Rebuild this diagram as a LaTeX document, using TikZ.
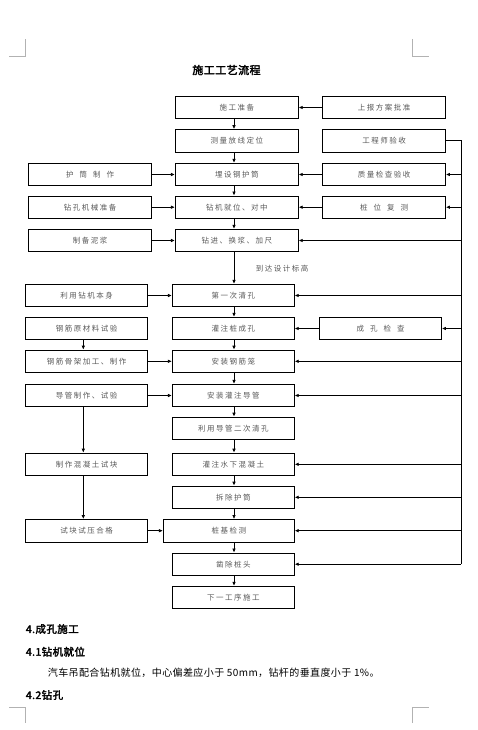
\documentclass[tikz,border=0pt]{standalone}
\usepackage{fontspec}
\usetikzlibrary{arrows.meta,calc}
\newfontfamily\cjk{Noto Sans CJK SC}[LetterSpace=20]
\newfontfamily\cjkp{Noto Sans CJK SC}[LetterSpace=4]
\newfontfamily\cjkb{Noto Sans CJK SC}[FakeBold=2.5,LetterSpace=4]
\begin{document}
\begin{tikzpicture}[x=1pt,y=-1pt,
  box/.style={draw=black,line width=0.8pt,minimum width=123pt,minimum height=22.5pt,inner sep=0pt,
    font=\cjk\fontsize{7.5}{9}\selectfont,text=black!65},
  lbox/.style={box,minimum width=122pt},
  arr/.style={line width=0.75pt,-{Latex[length=4pt,width=3.6pt]}},
  bus/.style={line width=0.75pt},
  crop/.style={draw=black!30,line width=0.6pt}]
\useasboundingbox (0,0) rectangle (477,730);
% crop marks
\draw[crop] (9,56.7) -- (25.7,56.7) -- (25.7,39);
\draw[crop] (412.3,39) -- (412.3,56.7) -- (429,56.7);
\draw[crop] (9,707.7) -- (25.7,707.7) -- (25.7,723);
\draw[crop] (412.3,723) -- (412.3,707.7) -- (429,707.7);
% title
\node[font=\cjkb\fontsize{11}{13}\selectfont] (title) at (226.5,70) {施工工艺流程};
% upper center column
\node[box] (c1) at (236.8,107.5) {施工准备};
\node[box] (c2) at (236.8,140.8) {测量放线定位};
\node[box] (c3) at (236.8,174.5) {埋设钢护筒};
\node[box] (c4) at (236.8,207.2) {钻机就位、对中};
\node[box] (c5) at (236.8,240.5) {钻进、换浆、加尺};
% right column
\node[box] (r1) at (384,107.5) {上报方案批准};
\node[box] (r2) at (384,140.8) {工程师验收};
\node[box] (r3) at (384,174.5) {质量检查验收};
\node[box] (r4) at (384,207.2) {桩\hspace{6pt}位\hspace{6pt}复\hspace{6pt}测};
% upper left column
\node[box] (l3) at (90,174.5) {护\hspace{6pt}筒\hspace{6pt}制\hspace{6pt}作};
\node[box] (l4) at (90,207.2) {钻孔机械准备};
\node[box] (l5) at (90,240.5) {制备泥浆};
% lower center column
\node[lbox] (c6) at (233.3,295.5) {第一次清孔};
\node[lbox] (c7) at (233.3,328.5) {灌注桩成孔};
\node[lbox] (c8) at (233.3,361.3) {安装钢筋笼};
\node[lbox] (c9) at (233.3,395.5) {安装灌注导管};
\node[lbox] (c10) at (233.3,428.3) {利用导管二次清孔};
\node[lbox] (c11) at (233.3,464.3) {灌注水下混凝土};
\node[lbox] (c12) at (233.3,497.3) {拆除护筒};
\node[lbox,minimum width=131pt] (c13) at (228.8,530.7) {桩基检测};
\node[lbox] (c14) at (233.3,564.2) {凿除桩头};
\node[lbox] (c15) at (233.3,597.5) {下一工序施工};
% lower left column
\node[lbox] (l6) at (86.6,295.5) {利用钻机本身};
\node[lbox] (l7) at (86.6,328.5) {钢筋原材料试验};
\node[lbox] (l8) at (86.6,361.3) {钢筋骨架加工、制作};
\node[lbox] (l9) at (86.6,395.5) {导管制作、试验};
\node[lbox] (l11) at (86.6,464.3) {制作混凝土试块};
\node[lbox] (l13) at (86.6,530.7) {试块试压合格};
\node[lbox] (r7) at (380.5,328.5) {成\hspace{6pt}孔\hspace{6pt}检\hspace{6pt}查};
% label
\node[anchor=west,inner sep=0pt,font=\cjk\fontsize{7.5}{9}\selectfont,text=black!65] (lab) at (255.7,269) {到达设计标高};
% reference coordinates
\coordinate (cx) at (234,0);
\coordinate (lx) at (83.3,0);
\coordinate (bx) at (461,0);
% center column vertical arrows
\foreach \a/\b in {c1/c2,c2/c3,c3/c4,c4/c5,c5/c6,c6/c7,c7/c8,c8/c9,c9/c10,c10/c11,c11/c12,c12/c13,c13/c14,c14/c15}
  \draw[arr] (\a.south -| cx) -- (\b.north -| cx);
% left column vertical arrows
\foreach \a/\b in {l7/l8,l9/l11,l11/l13}
  \draw[arr] (\a.south -| lx) -- (\b.north -| lx);
% left to center
\foreach \a/\b in {l3/c3,l4/c4,l5/c5,l6/c6,l8/c8,l9/c9,l13/c13}
  \draw[arr] (\a.east) -- (\b.west);
% right to center
\foreach \a/\b in {r1/c1,r3/c3,r4/c4,r7/c7}
  \draw[arr] (\a.west) -- (\b.east);
% right bus
\coordinate (btop) at (461,140);
\coordinate (bbot) at (461,564.2);
\draw[bus] (r2.east |- btop) -- (btop) -- (bbot);
\foreach \n in {r3,r4,c5,c6,r7,c8,c9,c11,c12,c13,c14}
  \draw[arr] (bx |- \n.east) -- (\n.east);
% text below
\node[anchor=west,inner sep=0pt,font=\cjkb\fontsize{10.5}{12}\selectfont] (h4) at (25.7,629) {4.成孔施工};
\node[anchor=west,inner sep=0pt,font=\cjkb\fontsize{10.5}{12}\selectfont] (h41) at (25.7,651.7) {4.1钻机就位};
\node[anchor=west,inner sep=0pt,font=\cjkp\fontsize{10}{12}\selectfont] (p41) at (47.7,672.7) {汽车吊配合钻机就位，中心偏差应小于 50mm，钻杆的垂直度小于 1\%。};
\node[anchor=west,inner sep=0pt,font=\cjkb\fontsize{10.5}{12}\selectfont] (h42) at (25.7,695) {4.2钻孔};
\end{tikzpicture}
\end{document}
